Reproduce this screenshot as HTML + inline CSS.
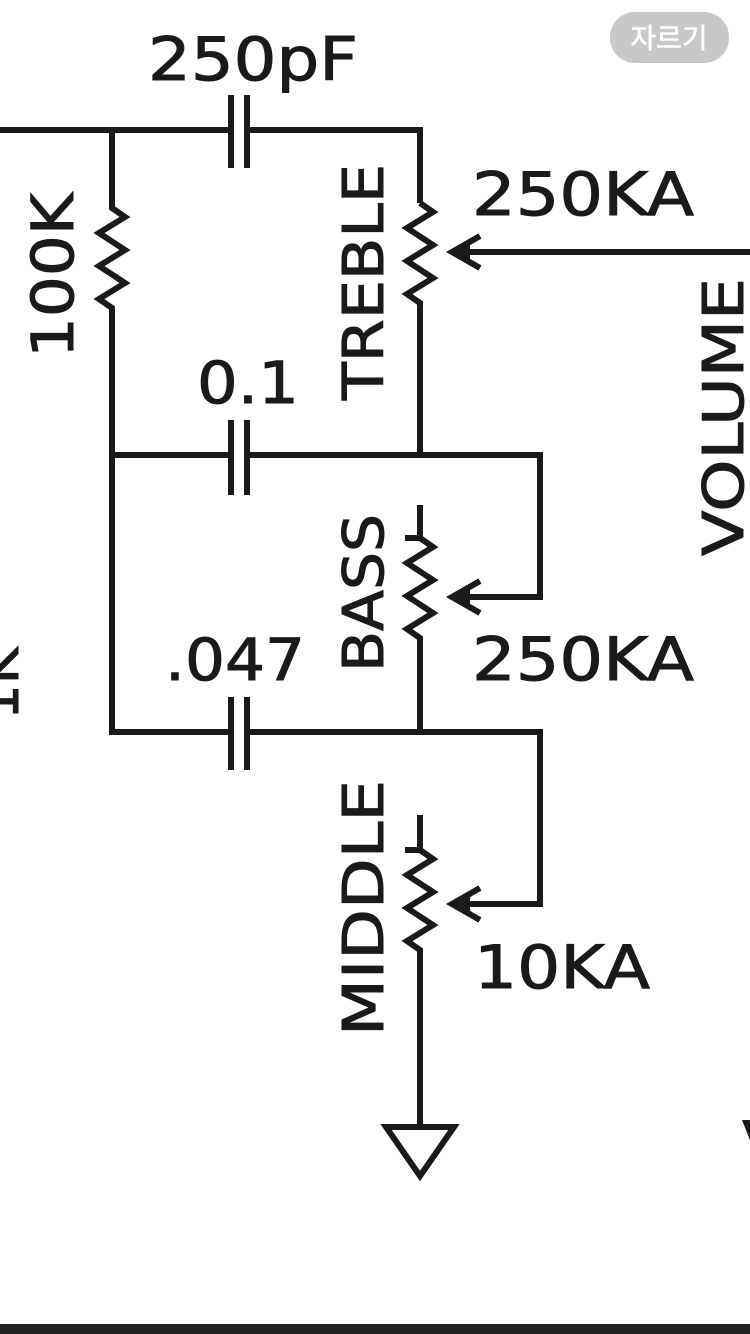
<!DOCTYPE html>
<html><head><meta charset="utf-8"><style>
html,body{margin:0;padding:0;background:#fff;width:750px;height:1334px;overflow:hidden}
svg{display:block}
text{font-family:"DejaVu Sans","Liberation Sans",sans-serif;fill:#1a1a1a;stroke:#1a1a1a;stroke-width:1}
</style></head><body>
<svg width="750" height="1334" viewBox="0 0 750 1334">
<g stroke="#1a1a1a" stroke-width="6" fill="none" stroke-linejoin="miter">
<polyline points="0,130 231,130"/>
<polyline points="247,130 420,130 420,203"/>
<line x1="231" y1="95" x2="231" y2="168"/><line x1="247" y1="95" x2="247" y2="168"/>
<polyline points="112,130 112,208 125,217 99,233 125,250 99,266 125,283 99,299 112,308 112,732 231,732"/>
<polyline points="420,203 433,212 407,228 433,245 407,261 433,278 407,294 420,303 420,455"/>
<line x1="750" y1="252" x2="455" y2="252"/>
<polyline points="480,236 452,252 480,268"/>
<line x1="112" y1="455" x2="231" y2="455"/>
<polyline points="247,455 540,455 540,597 455,597"/>
<line x1="231" y1="420" x2="231" y2="495"/><line x1="247" y1="420" x2="247" y2="495"/>
<polyline points="480,581 452,597 480,613"/>
<polyline points="420,505 420,538 433,547 407,563 433,580 407,596 433,613 407,629 420,638 420,732"/>
<line x1="405" y1="538" x2="420" y2="538"/>
<polyline points="247,732 540,732 540,904 455,904"/>
<line x1="231" y1="697" x2="231" y2="770"/><line x1="247" y1="697" x2="247" y2="770"/>
<polyline points="480,888 452,904 480,920"/>
<polyline points="420,815 420,850 433,859 407,875 433,892 407,908 433,925 407,941 420,950 420,1127"/>
<line x1="405" y1="850" x2="420" y2="850"/>
<polygon points="386,1127 454,1127 420,1176"/>
</g>
<polygon points="452,252 470,242 470,262" fill="#1a1a1a"/>
<polygon points="452,597 470,587 470,607" fill="#1a1a1a"/>
<polygon points="452,904 470,894 470,914" fill="#1a1a1a"/>
<polygon points="742,1120 750,1120 750,1140" fill="#1a1a1a"/>
<text x="148" y="80" font-size="60" textLength="210" lengthAdjust="spacingAndGlyphs">250pF</text>
<text x="472" y="215" font-size="60" textLength="222" lengthAdjust="spacingAndGlyphs">250KA</text>
<text x="197" y="403" font-size="58" textLength="102" lengthAdjust="spacingAndGlyphs">0.1</text>
<text x="165" y="680" font-size="58" textLength="140" lengthAdjust="spacingAndGlyphs">.047</text>
<text x="472" y="680" font-size="60" textLength="222" lengthAdjust="spacingAndGlyphs">250KA</text>
<text x="474" y="988" font-size="60" textLength="176" lengthAdjust="spacingAndGlyphs">10KA</text>
<text transform="translate(73,358) rotate(-90)" font-size="58" textLength="165" lengthAdjust="spacingAndGlyphs">100K</text>
<text transform="translate(383,400) rotate(-90)" font-size="56" textLength="236" lengthAdjust="spacingAndGlyphs">TREBLE</text>
<text transform="translate(383,672) rotate(-90)" font-size="56" textLength="158" lengthAdjust="spacingAndGlyphs">BASS</text>
<text transform="translate(383,1036) rotate(-90)" font-size="56" textLength="256" lengthAdjust="spacingAndGlyphs">MIDDLE</text>
<text transform="translate(743,556) rotate(-90)" font-size="56" textLength="278" lengthAdjust="spacingAndGlyphs">VOLUME</text>
<text transform="translate(18,720) rotate(-90)" font-size="56">1K</text>
<rect x="0" y="1324" width="750" height="10" fill="#222"/>
<rect x="610" y="12" width="119" height="51" rx="25" fill="#c8c8c8"/>
<text x="669" y="48" font-size="28" text-anchor="middle" style="fill:#fff;stroke:#fff;stroke-width:0.6;font-family:'Noto Sans CJK KR','NanumGothic',sans-serif">자르기</text>
</svg>
</body></html>
